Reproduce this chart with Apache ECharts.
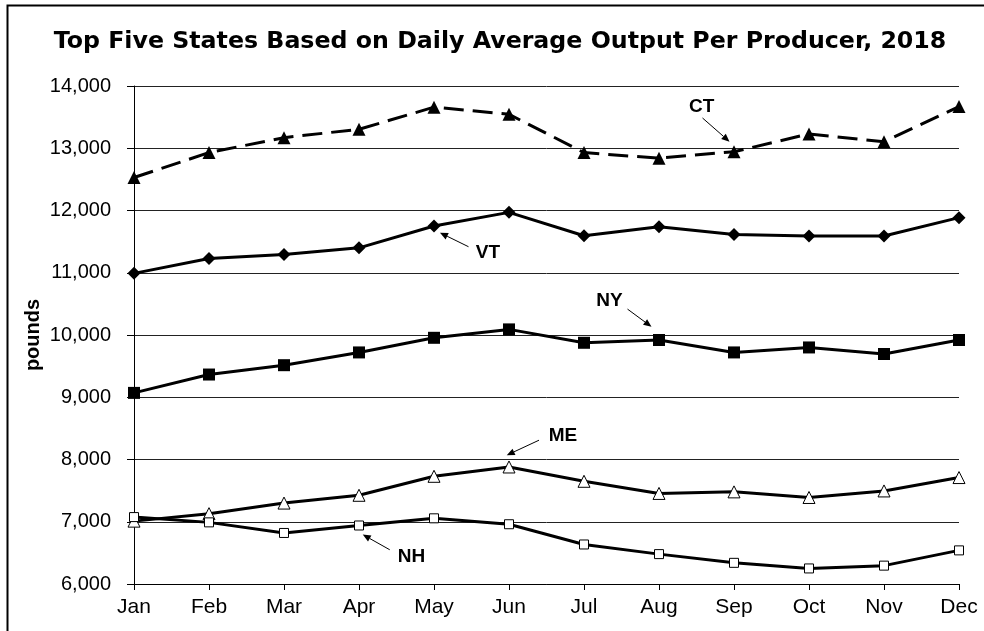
<!DOCTYPE html>
<html><head><meta charset="utf-8">
<script src="https://cdn.jsdelivr.net/npm/echarts@6/dist/echarts.min.js"></script>
<style>html,body{margin:0;padding:0;background:#fff}#c{width:984px;height:631px}</style>
</head><body><div id="c"></div>
<script>
var months = ['Jan','Feb','Mar','Apr','May','Jun','Jul','Aug','Sep','Oct','Nov','Dec'];
var CT = [12530,12930,13170,13305,13660,13545,12930,12840,12945,13230,13105,13670];
var VT = [10990,11230,11295,11400,11750,11970,11595,11740,11615,11590,11590,11885];
var NY = [9070,9365,9515,9720,9955,10090,9875,9920,9720,9800,9695,9920];
var ME = [7010,7130,7300,7425,7730,7880,7650,7455,7480,7390,7495,7710];
var NH = [7075,6990,6820,6940,7055,6960,6635,6480,6340,6250,6295,6540];
var yTicks = [6000,7000,8000,9000,10000,11000,12000,13000,14000];
// annotations: label text, label position [monthIndex, value], arrow from, arrow to
var annLabels = ['CT','VT','NY','ME','NH'];
var annText = [[7.57,13662],[4.72,11322],[6.34,10543],[5.72,8375],[3.70,6445]];
var annFrom = [[7.58,13486],[4.46,11418],[6.58,10416],[5.40,8310],[3.41,6550]];
var annTo   = [[7.94,13106],[4.08,11643],[6.90,10132],[4.97,8069],[3.05,6794]];

var FONT = '"Liberation Sans", Arial, sans-serif';
var chart = echarts.init(document.getElementById('c'), null, {renderer:'canvas'});
function ser(name, data, symbol, size, fill, dashed){
  return {
    name: name, type: 'line', data: data, xAxisIndex: 0, yAxisIndex: 0,
    symbol: symbol, symbolSize: size, showSymbol: true,
    lineStyle: {color:'#000', width: 3, type: dashed ? [20,9] : 'solid'},
    itemStyle: {color: fill, borderColor:'#000', borderWidth: fill === '#fff' ? 1 : 0},
    emphasis: {disabled: true}, animation: false, z: 3
  };
}
chart.setOption({
  animation: false,
  backgroundColor: '#fff',
  grid: {left: 134, right: 25, top: 86, bottom: 47, containLabel: false},
  xAxis: [{
    type: 'category', data: months, boundaryGap: false,
    axisLine: {lineStyle: {color:'#000', width: 1}},
    axisTick: {show: true, length: 6, lineStyle:{color:'#000'}, alignWithLabel: true},
    axisLabel: {color:'#000', fontFamily: FONT, fontSize: 21, margin: 13},
    splitLine: {show: false}
  },{
    type: 'value', min: 0, max: 11, show: false
  }],
  yAxis: [{
    type: 'value', min: 6000, max: 14000, interval: 1000,
    name: 'pounds', nameLocation: 'middle', nameGap: 91, nameRotate: 90, nameMoveOverlap: false,
    nameTextStyle: {fontFamily: FONT, fontWeight: 'bold', fontSize: 20, color:'#000'},
    axisLine: {show: true, lineStyle: {color:'#000', width: 1}},
    axisTick: {show: true, length: 7, lineStyle:{color:'#000'}},
    axisLabel: {color:'#000', fontFamily: FONT, fontSize: 20, margin: 23,
      formatter: function(v){ return v.toLocaleString('en-US'); }},
    splitLine: {show: true, lineStyle: {color:'#222', width: 1}}
  }],
  series: [
    ser('CT', CT, 'triangle', 13, '#000', true),
    ser('VT', VT, 'diamond', 13, '#000', false),
    ser('NY', NY, 'rect', 12, '#000', false),
    ser('ME', ME, 'triangle', 12, '#fff', false),
    ser('NH', NH, 'rect', 9, '#fff', false)
  ]
});

function px(p){
  return [chart.convertToPixel({xAxisIndex:1}, p[0]), chart.convertToPixel({yAxisIndex:0}, p[1])];
}
var g = [
  {type:'rect', shape:{x:7.5, y:5.5, width:1100, height:800}, style:{fill:'none', stroke:'#000', lineWidth:2}, silent:true, z:10},
  {type:'text', x:500, y:42, style:{text:'Top Five States Based on Daily Average Output Per Producer, 2018', fill:'#000',
    font:'bold 23.7px "DejaVu Sans", Verdana, sans-serif', align:'center', verticalAlign:'middle'}, z:10}
];
for (var i=0;i<annLabels.length;i++){
  var t = px(annText[i]), a = px(annFrom[i]), b = px(annTo[i]);
  g.push({type:'text', x:t[0], y:t[1], style:{text:annLabels[i], fill:'#000', font:'bold 19px ' + FONT, align:'center', verticalAlign:'middle'}, z:10});
  var dx=b[0]-a[0], dy=b[1]-a[1], L=Math.sqrt(dx*dx+dy*dy), ux=dx/L, uy=dy/L;
  var hl=8, hw=3.5;
  var bx=b[0]-ux*hl, by=b[1]-uy*hl;
  g.push({type:'line', shape:{x1:a[0], y1:a[1], x2:bx, y2:by}, style:{stroke:'#000', lineWidth:1}, z:10});
  g.push({type:'polygon', shape:{points:[[b[0],b[1]],[bx-uy*hw,by+ux*hw],[bx+uy*hw,by-ux*hw]]}, style:{fill:'#000'}, z:10});
}
chart.setOption({graphic: g});
</script></body></html>
